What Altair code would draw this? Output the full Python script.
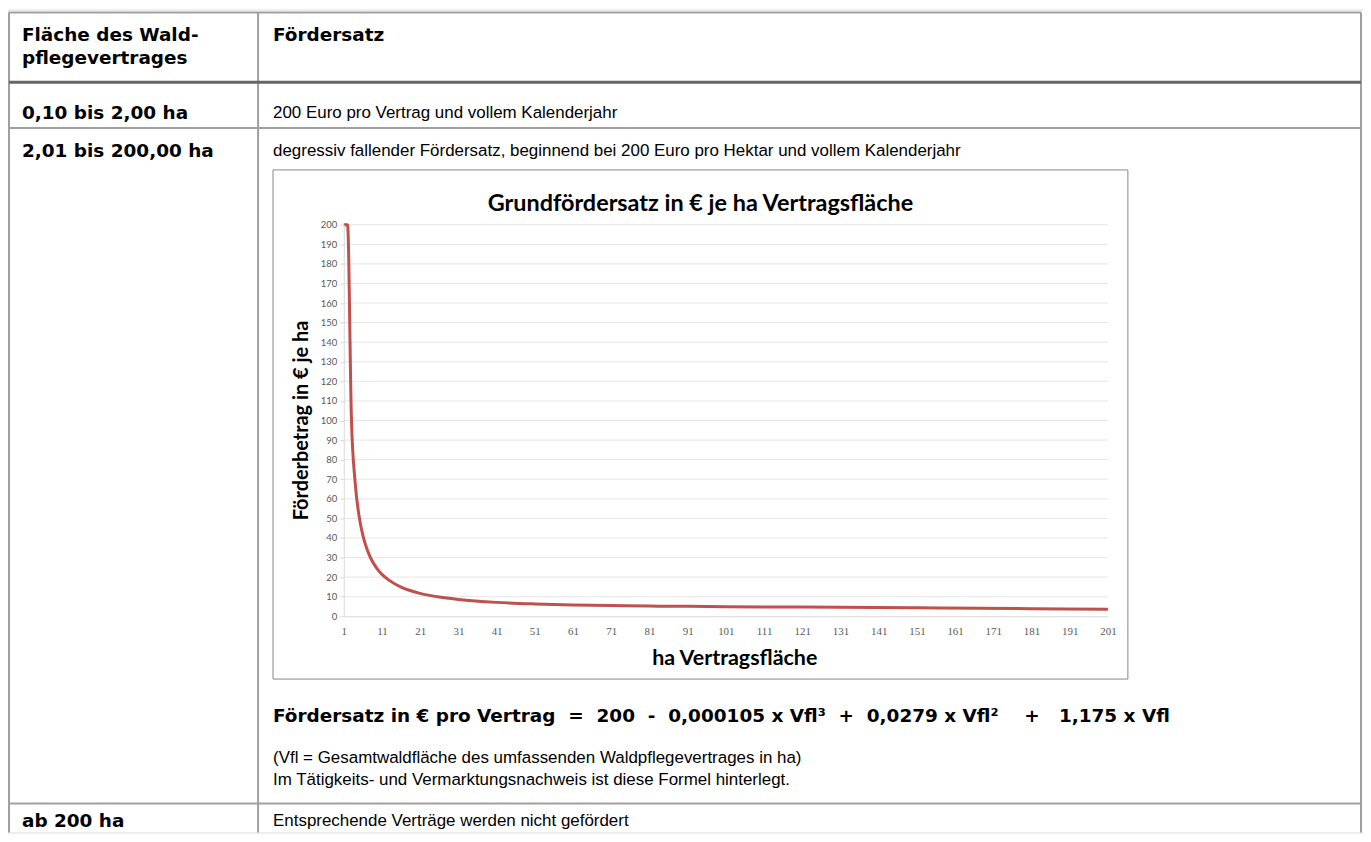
import altair as alt
import pandas as pd

# ---- inner chart data ----
flaeche = [1, 2, 3, 4, 5, 6, 7, 8, 9, 10, 11, 13, 16, 21, 26, 31, 41, 51, 61, 71,
           81, 91, 101, 121, 151, 181, 201]
satz = [200, 200, 101.2, 67.9, 51.3, 41.3, 34.7, 29.9, 26.4, 23.6, 21.4, 18.2, 14.9,
        11.7, 9.8, 8.6, 7.1, 6.3, 5.8, 5.5, 5.2, 5.1, 4.9, 4.7, 4.3, 3.9, 3.6]
y_ticks = list(range(0, 201, 10))
x_ticks = list(range(1, 202, 10))
grid_vals = list(range(10, 201, 10))

chart_title = "Grundfördersatz in € je ha Vertragsfläche"
y_title = "Förderbetrag in € je ha"
x_title = "ha Vertragsfläche"

# ---- table text ----
NB = "\u00a0"
header_left = ["Fläche des Wald-", "pflegevertrages"]
header_right = "Fördersatz"
row1 = ["0,10 bis 2,00 ha", "200 Euro pro Vertrag und vollem Kalenderjahr"]
row2 = ["2,01 bis 200,00 ha",
        "degressiv fallender Fördersatz, beginnend bei 200 Euro pro Hektar und vollem Kalenderjahr"]
formula = ("Fördersatz in € pro Vertrag" + NB * 2 + "=" + NB * 2 + "200" + NB * 2 + "-" + NB * 2 +
           "0,000105 x Vfl³" + NB * 2 + "+" + NB * 2 + "0,0279 x Vfl²" + NB * 4 + "+" + NB * 3 +
           "1,175 x Vfl")
note = ["(Vfl = Gesamtwaldfläche des umfassenden Waldpflegevertrages in ha)",
        "Im Tätigkeits- und Vermarktungsnachweis ist diese Formel hinterlegt."]
row3 = ["ab 200 ha", "Entsprechende Verträge werden nicht gefördert"]

W, H = 1360, 826
TFONT = "Liberation Sans"
BFONT = "DejaVu Sans"
CFONT = "Lato"

dummy = pd.DataFrame({"d": [0]})
base = alt.Chart(dummy)


def rule(x1, x2, y1, y2, color="#a0a0a0", width=2):
    return base.mark_rule(color=color, strokeWidth=width).encode(
        x=alt.value(x1), x2=alt.value(x2), y=alt.value(y1), y2=alt.value(y2))


def text(s, x, y, bold=False, size=17, font=None, align="left", color="#000000"):
    if font is None:
        font = BFONT if bold else TFONT
    return base.mark_text(text=s, align=align, baseline="middle", font=font, fontSize=size,
                          fontWeight="bold" if bold else "normal", color=color).encode(
        x=alt.value(x), y=alt.value(y))


layers = []
# table lines
layers += [
    rule(1, W - 2, 3, 3),                       # top
    rule(1, 1, 3, H),                           # left
    rule(W - 2, W - 2, 3, H),                   # right
    rule(251, 251, 3, H),                       # column divider
    rule(1, W - 2, 73, 73, color="#666666", width=3),  # header bottom
    rule(1, W - 2, 119, 119),
    rule(1, W - 2, 797, 797),
]
BS = 18.5
# table texts
layers += [
    text(header_left[0], 14, 26, bold=True, size=BS),
    text(header_left[1], 14, 49, bold=True, size=BS),
    text(header_right, 266, 26, bold=True, size=BS),
    text(row1[0], 14, 104, bold=True, size=BS),
    text(row1[1], 266, 104),
    text(row2[0], 14, 142, bold=True, size=BS),
    text(row2[1], 266, 142),
    text(formula, 266, 709, bold=True, size=BS),
    text(note[0], 266, 751),
    text(note[1], 266, 773),
    text(row3[0], 14, 814, bold=True, size=BS),
    text(row3[1], 266, 814),
]
# chart box
layers.append(base.mark_rect(filled=False, stroke="#878787", strokeWidth=1).encode(
    x=alt.value(266), x2=alt.value(1124), y=alt.value(161), y2=alt.value(672)))
layers.append(text(chart_title, 695, 195, bold=True, size=23.5, font=CFONT, align="center"))

xscale = alt.Scale(domain=[1, 201], range=[337, 1104], nice=False, zero=False)
yscale = alt.Scale(domain=[0, 200], range=[609, 216], nice=False)

yaxis = alt.Axis(
    values=y_ticks, offset=-337, tickSize=4, tickColor="#d9d9d9", labelPadding=3,
    labelFont=CFONT, labelFontSize=9.5, labelColor="#595959", domainColor="#d9d9d9",
    grid=False, labelFlush=False, zindex=2,
    title=y_title, titleFont=CFONT, titleFontSize=20, titleFontWeight="bold",
    titleColor="#000000", titleX=-42, titleY=412, titleAngle=270,
    titleBaseline="middle", titleAlign="center")
xaxis = alt.Axis(
    values=x_ticks, offset=-217, ticks=False, tickSize=0, labelPadding=9,
    labelFont="Liberation Serif", labelFontSize=11, labelColor="#595959",
    domainColor="#d9d9d9", grid=False, labelFlush=False, zindex=2,
    title=x_title, titleFont=CFONT, titleFontSize=21.5, titleFontWeight="bold",
    titleColor="#000000", titleX=729, titleY=42, titleBaseline="middle", titleAlign="center")

grid = alt.Chart(pd.DataFrame({"v": grid_vals})).mark_rule(color="#e6e6e6", strokeWidth=1).encode(
    y=alt.Y("v:Q", scale=yscale, axis=yaxis),
    x=alt.value(337), x2=alt.value(1104))

line = alt.Chart(pd.DataFrame({"ha": flaeche, "v": satz})).mark_line(
    color="#C0504D", strokeWidth=3, interpolate="monotone").encode(
    x=alt.X("ha:Q", scale=xscale, axis=xaxis),
    y=alt.Y("v:Q", scale=yscale, axis=yaxis),
)

chart = alt.layer(*layers, grid, line).properties(
    width=W, height=H,
    autosize=alt.AutoSizeParams(type="none"),
    padding=0,
).configure_view(stroke=None).configure(background="white")

chart.save("out.html", embed_options={"renderer": "svg", "actions": False})
